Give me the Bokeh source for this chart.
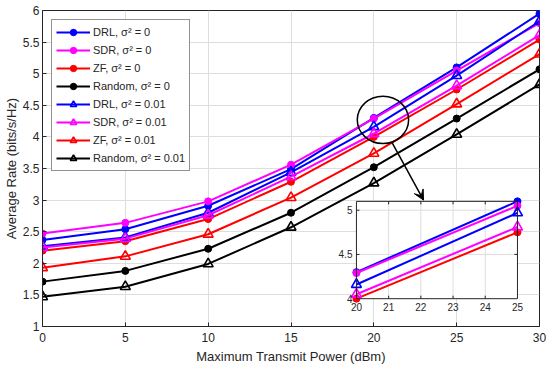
from bokeh.plotting import figure
from bokeh.models import Legend, LegendItem, Arrow, VeeHead, Range1d
from bokeh.embed import file_html
from bokeh.resources import INLINE

# ---------------- data ----------------
power = [0, 5, 10, 15, 20, 25, 30]
drl_0 = [2.37, 2.54, 2.91, 3.49, 4.30, 5.10, 5.95]
sdr_0 = [2.47, 2.64, 2.98, 3.56, 4.29, 5.05, 5.80]
zf_0 = [2.20, 2.35, 2.70, 3.29, 4.00, 4.75, 5.54]
random_0 = [1.71, 1.88, 2.23, 2.80, 3.52, 4.29, 5.07]
drl_001 = [2.27, 2.41, 2.80, 3.44, 4.16, 4.97, 5.83]
sdr_001 = [2.25, 2.39, 2.76, 3.37, 4.05, 4.81, 5.61]
zf_001 = [1.93, 2.11, 2.46, 3.04, 3.74, 4.52, 5.31]
random_001 = [1.47, 1.63, 1.99, 2.57, 3.27, 4.04, 4.83]

x_ticks = [0, 5, 10, 15, 20, 25, 30]
y_ticks = [1, 1.5, 2, 2.5, 3, 3.5, 4, 4.5, 5, 5.5, 6]
y_tick_labels = ["1", "1.5", "2", "2.5", "3", "3.5", "4", "4.5", "5", "5.5", "6"]

inset_power = [20, 25]
inset_x_ticks = [20, 21, 22, 23, 24, 25]
inset_x_labels = ["20", "21", "22", "23", "24", "25"]
inset_y_ticks = [4, 4.5, 5]
inset_y_labels = ["4", "4.5", "5"]
inset_x_lim = (20, 25)
inset_y_lim = (4, 5.1)

# layout of the inset box, in main-axes units (left, right, bottom, top)
inset_box = (18.95, 28.67, 1.44, 2.98)
# zoom annotation (circle around x=20 and arrow to inset)
zoom_center = (20.55, 4.27)
zoom_size = (3.1, 0.75)
arrow_start = (21.1, 3.91)
arrow_end = (23.0, 3.0)

names = ["DRL", "SDR", "ZF", "Random"]
colors = ["#0000ff", "#ff00ff", "#ff0000", "#000000"]
noise = ["0", "0.01"]
values = [[drl_0, sdr_0, zf_0, random_0], [drl_001, sdr_001, zf_001, random_001]]
in_inset = [[True, True, True, False], [True, True, False, False]]

FONT = "Liberation Sans"
AX = "#262626"
GRID = "#dedede"

X0, X1 = 0, 30
Y0, Y1 = 1, 6
FRAME_W, FRAME_H = 497, 316

p = figure(width=550, height=369, x_range=(X0, X1), y_range=(Y0, Y1),
           output_backend="svg", toolbar_location=None,
           min_border_left=42, min_border_right=11, min_border_top=10, min_border_bottom=43)
for ax in (p.xaxis, p.yaxis):
    ax.major_tick_in = 4
    ax.major_tick_out = 0
    ax.minor_tick_line_color = None
    ax.axis_line_color = AX
    ax.major_tick_line_color = AX
    ax.major_label_text_color = AX
    ax.major_label_text_font = FONT
    ax.major_label_text_font_size = "12px"
    ax.axis_label_text_font = FONT
    ax.axis_label_text_font_style = "normal"
    ax.axis_label_text_color = AX
    ax.axis_label_text_font_size = "13px"
p.outline_line_color = AX
p.outline_line_alpha = 1
p.grid.grid_line_color = GRID
p.xaxis.ticker = x_ticks
p.yaxis.ticker = y_ticks
p.yaxis.major_label_overrides = {t: l for t, l in zip(y_ticks, y_tick_labels)}
p.xaxis.axis_label = "Maximum Transmit Power (dBm)"
p.yaxis.axis_label = "Average Rate (bits/s/Hz)"
p.xaxis.major_label_standoff = 6
p.yaxis.major_label_standoff = 3
p.xaxis.axis_label_standoff = 4
p.yaxis.axis_label_standoff = 1

items = []
for k, nz in enumerate(noise):
    for i, nm in enumerate(names):
        ys = values[k][i]
        ln = p.line(power, ys, line_color=colors[i], line_width=2)
        if k == 0:
            mk = p.scatter(power, ys, marker="circle", size=7, fill_color=colors[i],
                           line_color=colors[i])
        else:
            mk = p.scatter(power, ys, marker="triangle", size=10, fill_alpha=0,
                           line_color=colors[i], line_width=1.6)
        items.append(LegendItem(label=f"{nm}, \u03c3\u00b2 = {nz}", renderers=[ln, mk]))

legend = Legend(items=items, location="top_left", border_line_color=AX, border_line_width=1,
                label_text_font=FONT, label_text_font_size="11px", label_text_color=AX,
                glyph_width=34, glyph_height=16, label_height=16, spacing=2,
                padding=4, margin=9, label_standoff=3)
p.add_layout(legend)

p.ellipse(x=[zoom_center[0]], y=[zoom_center[1]], width=zoom_size[0], height=zoom_size[1],
          fill_alpha=0, line_color="black", line_width=1.5)
p.add_layout(Arrow(end=VeeHead(size=10, fill_color="black", line_color="black"),
                   x_start=arrow_start[0], y_start=arrow_start[1],
                   x_end=arrow_end[0], y_end=arrow_end[1],
                   line_color="black", line_width=1.5))

# ---------------- inset (drawn through extra ranges of the same figure) ----------------
bl, br, bb, bt = inset_box
sx = (inset_x_lim[1] - inset_x_lim[0]) / (br - bl)
sy = (inset_y_lim[1] - inset_y_lim[0]) / (bt - bb)
p.extra_x_ranges = {"ix": Range1d(inset_x_lim[0] - (bl - X0) * sx, inset_x_lim[0] + (X1 - bl) * sx)}
p.extra_y_ranges = {"iy": Range1d(inset_y_lim[0] - (bb - Y0) * sy, inset_y_lim[0] + (Y1 - bb) * sy)}
R = dict(x_range_name="ix", y_range_name="iy")

p.quad(left=[inset_x_lim[0]], right=[inset_x_lim[1]], bottom=[inset_y_lim[0]], top=[inset_y_lim[1]],
       fill_color="white", line_color=None, **R)
gx = inset_x_ticks[1:-1]
p.segment(x0=gx, y0=[inset_y_lim[0]] * len(gx), x1=gx, y1=[inset_y_lim[1]] * len(gx),
          line_color=GRID, line_width=1, **R)
gy = inset_y_ticks[1:]
p.segment(x0=[inset_x_lim[0]] * len(gy), y0=gy, x1=[inset_x_lim[1]] * len(gy), y1=gy,
          line_color=GRID, line_width=1, **R)
tick_px = 3
dx_tick = (X1 - X0) / FRAME_W * sx * tick_px
dy_tick = (Y1 - Y0) / FRAME_H * sy * tick_px
p.segment(x0=gx, y0=[inset_y_lim[0]] * len(gx), x1=gx, y1=[inset_y_lim[0] + dy_tick] * len(gx),
          line_color=AX, line_width=1, **R)
p.segment(x0=gx, y0=[inset_y_lim[1]] * len(gx), x1=gx, y1=[inset_y_lim[1] - dy_tick] * len(gx),
          line_color=AX, line_width=1, **R)
p.segment(x0=[inset_x_lim[0]] * len(gy), y0=gy, x1=[inset_x_lim[0] + dx_tick] * len(gy), y1=gy,
          line_color=AX, line_width=1, **R)
p.segment(x0=[inset_x_lim[1]] * len(gy), y0=gy, x1=[inset_x_lim[1] - dx_tick] * len(gy), y1=gy,
          line_color=AX, line_width=1, **R)

idx = [power.index(v) for v in inset_power]
for k in range(2):
    for i in range(4):
        if not in_inset[k][i]:
            continue
        ys = [values[k][i][j] for j in idx]
        p.line(inset_power, ys, line_color=colors[i], line_width=2, **R)
        if k == 0:
            p.scatter(inset_power, ys, marker="circle", size=7, fill_color=colors[i],
                      line_color=colors[i], **R)
        else:
            p.scatter(inset_power, ys, marker="triangle", size=10, fill_alpha=0,
                      line_color=colors[i], line_width=1.6, **R)

p.quad(left=[inset_x_lim[0]], right=[inset_x_lim[1]], bottom=[inset_y_lim[0]], top=[inset_y_lim[1]],
       fill_alpha=0, line_color=AX, line_width=1, **R)

p.text(x=inset_x_ticks, y=[inset_y_lim[0]] * len(inset_x_ticks), text=inset_x_labels,
       y_offset=4, text_align="center", text_baseline="top", text_font_size="10px",
       text_color=AX, text_font={"value": FONT}, **R)
p.text(x=[inset_x_lim[0]] * len(inset_y_ticks), y=inset_y_ticks, text=inset_y_labels,
       x_offset=-4, text_align="right", text_baseline="middle", text_font_size="10px",
       text_color=AX, text_font={"value": FONT}, **R)

open("out.html", "w").write(file_html(p, INLINE))
